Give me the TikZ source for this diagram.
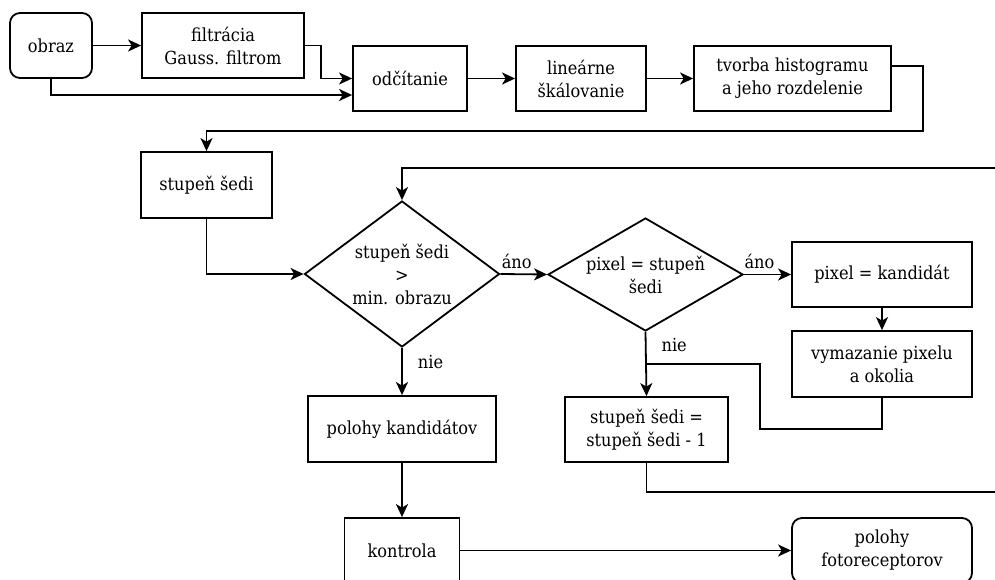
\documentclass[tikz,border=0pt]{standalone}
\usepackage{fontspec}
\setmainfont{DejaVu Serif}[FakeStretch=0.9]
\usetikzlibrary{shapes}
\usetikzlibrary{shapes.geometric}
\usetikzlibrary{arrows.meta}
\usetikzlibrary{positioning}

\newcommand{\flowfont}{\fontsize{18}{23}\selectfont}

\tikzset{
  block/.style={draw, line width=1.8pt, rectangle, align=center, inner sep=0pt, font=\flowfont},
  endblock/.style={block, rounded corners=10pt},
  decision/.style={draw, line width=1.8pt, diamond, align=center, inner sep=0pt, font=\flowfont},
  flow/.style={line width=1.8pt, -{Stealth[length=13pt, width=12pt, inset=3.5pt]}},
  link/.style={line width=1.8pt},
  answer/.style={font=\flowfont, inner sep=5pt}
}

\begin{document}
\begin{tikzpicture}[x=1pt, y=-1pt]
  \clip (0,0) rectangle (995,580);

  % first row
  \node[endblock, minimum width=82, minimum height=65] (obraz) at (51,45.5) {obraz};
  \node[block, minimum width=162, minimum height=65] (filtr) at (223,45.5) {filtrácia\\Gauss. filtrom};
  \node[block, minimum width=114, minimum height=65] (odcit) at (410,78.5) {odčítanie};
  \node[block, minimum width=130, minimum height=65] (skal) at (581,78.5) {lineárne\\škálovanie};
  \node[block, minimum width=197, minimum height=65] (hist) at (792.5,78.5) {tvorba histogramu\\a jeho rozdelenie};

  % loop
  \node[block, minimum width=131, minimum height=66] (sed) at (206.5,185) {stupeň šedi};
  \node[decision, aspect=1.34, minimum width=195, minimum height=146] (dmin) at (402,274) {stupeň šedi\\>\\min. obrazu};
  \node[decision, aspect=1.73, minimum width=195, minimum height=113] (dpix) at (645.5,274.5) {pixel = stupeň\\šedi};
  \node[block, minimum width=180, minimum height=65] (kand) at (882,274.5) {pixel = kandidát};
  \node[block, minimum width=180, minimum height=66] (vymaz) at (882,364) {vymazanie pixelu\\a okolia};
  \node[block, minimum width=163, minimum height=65] (znizenie) at (646.5,429.5) {stupeň šedi =\\stupeň šedi - 1};

  % end
  \node[block, minimum width=188, minimum height=66] (polohy) at (402,429) {polohy kandidátov};
  \node[block, minimum width=115, minimum height=65] (kontrola) at (402,550.5) {kontrola};
  \node[endblock, minimum width=180, minimum height=65] (foto) at (882,550.5) {polohy\\fotoreceptorov};

  \coordinate (hturn) at (923,131);
  \coordinate (loopin) at (1000,168);
  \coordinate (loopout) at (1000,492);
  \coordinate (vturn) at (760,429);
  \coordinate (vjoin) at (645.5,364);

  \draw[flow] (obraz) -- (filtr);
  \draw[flow] (filtr.east) -- ++(16,0) |- (odcit.west);
  \draw[flow] (obraz.south) |- ([yshift=-16.5pt]odcit.west);
  \draw[flow] (odcit) -- (skal);
  \draw[flow] (skal) -- (hist);
  \draw[flow] ([yshift=12.5pt]hist.east) -| (hturn) -| (sed.north);
  \draw[flow] (sed.south) |- (dmin.west);
  \draw[flow] (loopin) -| (dmin.north);
  \draw[flow] (dmin.east) -- node[answer, above, pos=0.35] {áno} (dpix.west);
  \draw[flow] (dpix.east) -- node[answer, above, pos=0.33] {áno} (kand.west);
  \draw[flow] (kand) -- (vymaz);
  \draw[flow] (dmin.south) -- node[answer, right=10pt, pos=0.29] {nie} (polohy.north);
  \draw[flow] (dpix.south) -- node[answer, right=10pt, pos=0.21] {nie} (znizenie.north);
  \draw[link] (vymaz.south) |- (vturn) |- (vjoin);
  \draw[link] (znizenie.south) |- (loopout);
  \draw[flow] (polohy) -- (kontrola);
  \draw[flow] (kontrola) -- (foto);
\end{tikzpicture}
\end{document}
